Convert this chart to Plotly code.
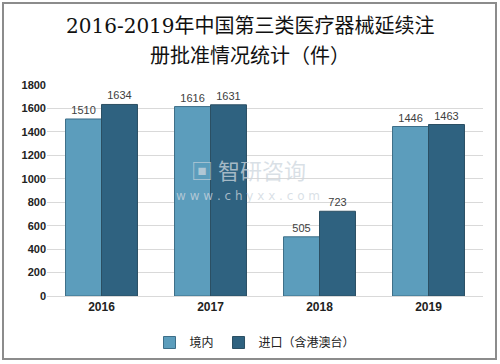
import plotly.graph_objects as go

years = ["2016", "2017", "2018", "2019"]
domestic = [1510, 1616, 505, 1446]
imported = [1634, 1631, 723, 1463]
names = ["境内", "进口（含港澳台）"]
yticks = [0, 200, 400, 600, 800, 1000, 1200, 1400, 1600, 1800]
title_lines = ["2016-2019年中国第三类医疗器械延续注", "册批准情况统计（件）"]

W, H = 500, 364
ml, mr, mt, mb = 47, 17, 85, 68
pw = W - ml - mr
ph = H - mt - mb

def px(x):
    return (x - ml) / pw

def py(y):
    return (H - mb - y) / ph

fig = go.Figure()
fig.add_bar(x=years, y=domestic, name=names[0], text=domestic, textposition="outside",
            marker=dict(color="#5c9dbc", line=dict(color="#3d6e88", width=1)),
            textfont=dict(size=11, color="#404040"), cliponaxis=False)
fig.add_bar(x=years, y=imported, name=names[1], text=imported, textposition="outside",
            marker=dict(color="#2f6280", line=dict(color="#2b4f63", width=1)),
            textfont=dict(size=11, color="#404040"), cliponaxis=False)

fig.add_shape(type="rect", xref="paper", yref="paper",
              x0=px(3), x1=px(496), y0=py(359), y1=py(3),
              line=dict(color="#8c8c8c", width=2), layer="above")

for i, t in enumerate(title_lines):
    fig.add_annotation(text=t, x=px(250), y=py(26 + 30 * i),
                       xref="paper", yref="paper", xanchor="center", yanchor="middle",
                       showarrow=False,
                       font=dict(size=20, color="#111111",
                                 family="DejaVu Serif, Noto Sans CJK SC"))

fig.add_annotation(text="▣ 智研咨询", x=px(248), y=py(169), xref="paper", yref="paper",
                   showarrow=False, font=dict(size=22, color="rgba(205,214,222,0.75)",
                                              family="Noto Sans CJK SC"))
fig.add_annotation(text="w w w . c h y x x . c o m", x=px(248), y=py(196), xref="paper", yref="paper",
                   showarrow=False, font=dict(size=12, color="rgba(205,214,222,0.75)",
                                              family="DejaVu Sans"))

fig.update_layout(
    width=W, height=H,
    margin=dict(l=ml, r=mr, t=mt, b=mb, autoexpand=False),
    paper_bgcolor="white", plot_bgcolor="white",
    barmode="group", bargap=0.34, bargroupgap=0.0,
    showlegend=True,
    legend=dict(orientation="h", x=px(255), xanchor="center", y=py(328), yanchor="top",
                font=dict(size=12, color="#222222", family="Noto Sans CJK SC"),
                itemwidth=30, tracegroupgap=0),
    font=dict(family="Liberation Sans, Noto Sans CJK SC"),
)
fig.update_xaxes(showline=True, linecolor="#d9d9d9", ticks="", automargin=False,
                 tickfont=dict(size=12, color="#222222", family="Liberation Sans", weight="bold"))
fig.update_yaxes(range=[0, 1800], tickvals=yticks, showgrid=True, gridcolor="#d9d9d9",
                 zeroline=False, ticks="", automargin=False,
                 tickfont=dict(size=11, color="#222222", family="Liberation Sans", weight="bold"))

fig.write_html("out.html", config={"displayModeBar": False},
               post_script="document.body.style.margin='0px';document.body.style.padding='0px';")
